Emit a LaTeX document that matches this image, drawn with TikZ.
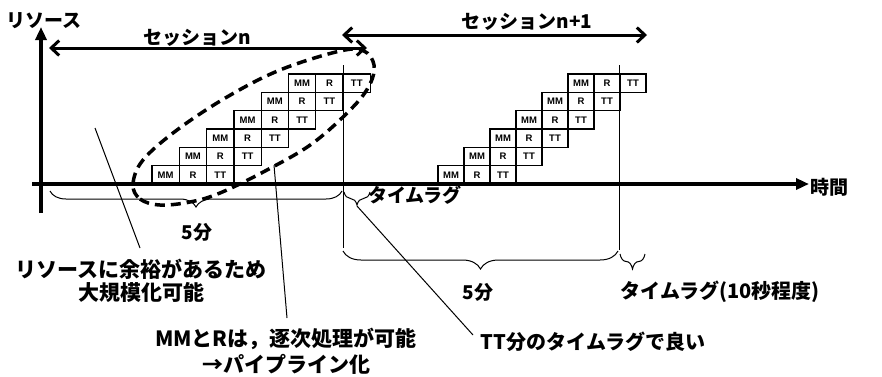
\documentclass[tikz,border=0pt]{standalone}
\usepackage{fontspec}
\setmainfont{Noto Sans CJK JP}
\newfontfamily\latf{Liberation Sans}
\usetikzlibrary{arrows.meta,decorations.pathreplacing,shapes.geometric}
\begin{document}
\begin{tikzpicture}[x=1pt,y=-1pt,
  jp/.style={font=\fontsize{19}{23}\selectfont\bfseries, inner sep=1pt},
  jpl/.style={font=\fontsize{20}{23}\selectfont\bfseries, inner sep=1pt},
  jpx/.style={font=\fontsize{21}{23}\selectfont\bfseries, inner sep=1pt},
  cell/.style={draw, line width=1.3pt, inner sep=0pt, outer sep=0pt, minimum height=18.33pt, font=\latf\bfseries\fontsize{9.5}{9.5}\selectfont},
  axis/.style={line width=4pt, -{Triangle[length=13pt,width=11pt]}},
  sess/.style={line width=3pt, {Straight Barb[length=8pt,width=15pt]}-{Straight Barb[length=8pt,width=15pt]}},
  thinl/.style={line width=1pt},
  brc/.style={line width=1pt, decorate, decoration={brace, mirror, amplitude=#1}},
  ell/.style={line width=3.5pt, dash pattern=on 10pt off 6pt}
]
\useasboundingbox (0,0) rectangle (882,376);

% thin vertical guide lines
\coordinate (v1t) at (343,65); \coordinate (v1b) at (343,248);
\coordinate (v2t) at (619,65); \coordinate (v2b) at (619,250);
\draw[thinl] (v1t) -- (v1b);
\draw[thinl] (v2t) -- (v2b);

% blocks of session n
\foreach \k in {0,...,5}{
  \node[cell, minimum width=27.3pt, anchor=south west] (a\k m) at ({152+27.3*\k},{184-18.33*\k}) {MM};
  \node[cell, minimum width=27.3pt, anchor=west] (a\k r) at (a\k m.east) {R};
  \node[cell, minimum width=27.3pt, anchor=west] (a\k t) at (a\k r.east) {TT};
}
% blocks of session n+1
\foreach \k in {0,...,5}{
  \node[cell, minimum width=26pt, anchor=south west] (b\k m) at ({438+26*\k},{184-18.33*\k}) {MM};
  \node[cell, minimum width=26pt, anchor=west] (b\k r) at (b\k m.east) {R};
  \node[cell, minimum width=26pt, anchor=west] (b\k t) at (b\k r.east) {TT};
}

% axes
\coordinate (xo) at (32,184); \coordinate (xe) at (809,184);
\coordinate (yo) at (41,213); \coordinate (ye) at (41,27);
\draw[axis] (xo) -- (xe);
\draw[axis] (yo) -- (ye);
\node[jp, anchor=west] (tl) at (809,187) {時間};
\node[jp] (rl) at (44,21) {リソース};

% session arrows
\coordinate (s1a) at (49,48); \coordinate (s1b) at (367,48);
\draw[sess] (s1a) -- (s1b);
\node[jp] (s1l) at (197,38) {セッションn};
\coordinate (s2a) at (342,35); \coordinate (s2b) at (647,35);
\draw[sess] (s2a) -- (s2b);
\node[jp] (s2l) at (527,22) {セッションn+1};

% dashed loop round the blocks of session n
\draw[ell] plot[smooth cycle, tension=0.6] coordinates {
  (133,184) (140,199) (160,205) (190,202) (220,193) (267,170) (313,143)
  (353,107) (370,84) (374,65) (364,51) (340,51) (280,70) (227,97)
  (177,130) (143,160)};

% braces
\coordinate (b1a) at (50,191); \coordinate (b1b) at (342,191);
\draw[brc=16pt] (b1a) -- (b1b);
\coordinate (b2a) at (344,192); \coordinate (b2b) at (370,192);
\draw[brc=13pt] (b2a) -- (b2b);
\coordinate (b3a) at (343,251); \coordinate (b3b) at (618,251);
\draw[brc=18pt] (b3a) -- (b3b);
\coordinate (b4a) at (620,254); \coordinate (b4b) at (645,254);
\draw[brc=15pt] (b4a) -- (b4b);

% labels
\node[jp] (five1) at (197,232) {5分};
\node[jp] (lag1) at (415,195) {タイムラグ};
\node[jp] (five2) at (478,292) {5分};
\node[jpl] (lag2) at (720,292) {タイムラグ(10秒程度)};
\node[jpx, align=center] (res) at (141,281) {リソースに余裕があるため\\大規模化可能};
\node[jpx, align=center] (mmr) at (286,351) {MMとRは，逐次処理が可能\\[3pt]→パイプライン化};
\node[jpl] (ttl) at (593,342) {TT分のタイムラグで良い};

% leader lines
\coordinate (l1a) at (95,128); \coordinate (l1b) at (140,248);
\draw[thinl] (l1a) -- (l1b);
\coordinate (l2a) at (274,165); \coordinate (l2b) at (287,318);
\draw[thinl] (l2a) -- (l2b);
\coordinate (l3a) at (357,206); \coordinate (l3b) at (473,335);
\draw[thinl] (l3a) -- (l3b);
\end{tikzpicture}
\end{document}
